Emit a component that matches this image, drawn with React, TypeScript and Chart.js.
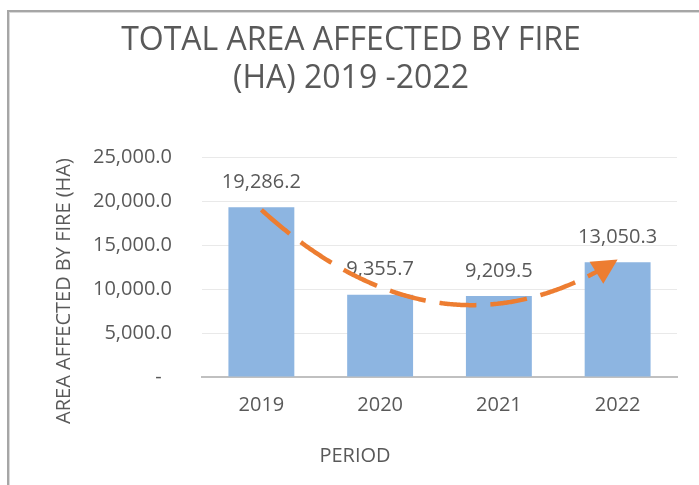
import React, { useEffect, useRef } from "react";
import { Chart, registerables } from "chart.js";

Chart.register(...registerables);

const categories = ["2019", "2020", "2021", "2022"];
const areaValues = [19286.2, 9355.7, 9209.5, 13050.3];
const yTickValues = [0, 5000, 10000, 15000, 20000, 25000];
const titleLines = ["TOTAL AREA AFFECTED BY FIRE", "(HA) 2019 -2022"];
const yAxisTitle = "AREA AFFECTED BY FIRE (HA)";
const xAxisTitle = "PERIOD";

const TEXT = "#595959";
const FONT = "'Open Sans', 'Liberation Sans', sans-serif";

const fmt = (v: number) =>
  v.toLocaleString("en-US", { minimumFractionDigits: 1, maximumFractionDigits: 1 });

function quadFit(vals: number[]): [number, number, number] {
  let s0 = 0, s1 = 0, s2 = 0, s3 = 0, s4 = 0, t0 = 0, t1 = 0, t2 = 0;
  vals.forEach((y, x) => {
    s0 += 1; s1 += x; s2 += x * x; s3 += x ** 3; s4 += x ** 4;
    t0 += y; t1 += x * y; t2 += x * x * y;
  });
  const det = (m: number[][]) =>
    m[0][0] * (m[1][1] * m[2][2] - m[1][2] * m[2][1]) -
    m[0][1] * (m[1][0] * m[2][2] - m[1][2] * m[2][0]) +
    m[0][2] * (m[1][0] * m[2][1] - m[1][1] * m[2][0]);
  const M = [[s0, s1, s2], [s1, s2, s3], [s2, s3, s4]];
  const r = [t0, t1, t2];
  const D = det(M);
  const sol = [0, 1, 2].map((c) => {
    const Mc = M.map((row, i) => row.map((v, j) => (j === c ? r[i] : v)));
    return det(Mc) / D;
  });
  return [sol[0], sol[1], sol[2]];
}

const framePlugin = {
  id: "frame",
  beforeDraw(chart: any) {
    const { ctx, width, height } = chart;
    ctx.save();
    ctx.fillStyle = "#ffffff";
    ctx.fillRect(0, 0, width, height);
    ctx.fillStyle = "#a6a6a6";
    ctx.fillRect(7, 10, width - 7, 2);
    ctx.fillRect(7, 10, 2, height - 10);
    ctx.fillStyle = "#d9d9d9";
    ctx.fillRect(9, 12, width - 9, 1);
    ctx.fillRect(9, 12, 1, height - 12);
    ctx.restore();
  },
};

const textPlugin = {
  id: "texts",
  afterDraw(chart: any) {
    const { ctx } = chart;
    ctx.save();
    ctx.fillStyle = TEXT;
    ctx.textAlign = "center";
    ctx.textBaseline = "middle";
    ctx.font = `32px ${FONT}`;
    ctx.fillText(titleLines[0], 351, 41);
    ctx.fillText(titleLines[1], 351, 79);
    ctx.font = `20px ${FONT}`;
    ctx.fillText(xAxisTitle, 355, 456);
    ctx.translate(64, 291);
    ctx.rotate(-Math.PI / 2);
    ctx.fillText(yAxisTitle, 0, 0);
    ctx.restore();
  },
};

const labelPlugin = {
  id: "barLabels",
  afterDatasetsDraw(chart: any) {
    const { ctx } = chart;
    const meta = chart.getDatasetMeta(0);
    ctx.save();
    ctx.fillStyle = TEXT;
    ctx.textAlign = "center";
    ctx.textBaseline = "middle";
    ctx.font = `20px ${FONT}`;
    meta.data.forEach((el: any, i: number) => {
      ctx.fillText(fmt(areaValues[i]), el.x, el.y - 25);
    });
    ctx.restore();
  },
};

const trendPlugin = {
  id: "trend",
  afterDatasetsDraw(chart: any) {
    const { ctx } = chart;
    const xs = chart.scales.x;
    const ys = chart.scales.y;
    const [a0, a1, a2] = quadFit(areaValues);
    const f = (t: number) => a0 + a1 * t + a2 * t * t;
    const px = (t: number) => xs.getPixelForValue(t);
    const py = (t: number) => ys.getPixelForValue(f(t));
    const tEnd = areaValues.length - 1;
    const ex = px(tEnd), ey = py(tEnd);
    let dx = ex - px(tEnd - 0.01), dy = ey - py(tEnd - 0.01);
    const len = Math.hypot(dx, dy);
    dx /= len; dy /= len;
    const headLen = 25, headHalf = 13;
    ctx.save();
    ctx.strokeStyle = "#ed7d31";
    ctx.fillStyle = "#ed7d31";
    ctx.lineWidth = 4.5;
    ctx.lineCap = "butt";
    ctx.setLineDash([37, 14]);
    ctx.beginPath();
    ctx.moveTo(px(0), py(0));
    for (let t = 0.01; t <= tEnd; t += 0.01) {
      const x = px(t), y = py(t);
      if (Math.hypot(ex - x, ey - y) < headLen - 3) break;
      ctx.lineTo(x, y);
    }
    ctx.stroke();
    ctx.setLineDash([]);
    const bx = ex - dx * headLen, by = ey - dy * headLen;
    ctx.beginPath();
    ctx.moveTo(ex, ey);
    ctx.lineTo(bx - dy * headHalf, by + dx * headHalf);
    ctx.lineTo(bx + dy * headHalf, by - dx * headHalf);
    ctx.closePath();
    ctx.fill();
    ctx.restore();
  },
};

export default function App() {
  const ref = useRef<HTMLCanvasElement | null>(null);
  useEffect(() => {
    if (!ref.current) return;
    const chart = new Chart(ref.current, {
      type: "bar",
      data: {
        labels: categories,
        datasets: [
          {
            data: areaValues,
            backgroundColor: "#8db5e1",
            borderWidth: 0,
            barPercentage: 0.555,
            categoryPercentage: 1,
          },
        ],
      },
      options: {
        animation: false,
        responsive: false,
        layout: { padding: { top: 157, right: 22, bottom: 0, left: 0 } },
        plugins: {
          legend: { display: false },
          title: { display: false },
          tooltip: { enabled: false },
        },
        scales: {
          x: {
            grid: { display: false, drawTicks: false },
            border: { display: true, color: "#c0c0c0", width: 2 },
            ticks: { color: TEXT, font: { family: FONT, size: 20 }, padding: 16 },
            afterFit: (s: any) => { s.height = 108; },
          },
          y: {
            min: 0,
            max: 25000,
            afterBuildTicks: (s: any) => { s.ticks = yTickValues.map((v) => ({ value: v })); },
            grid: { color: "#e9e9e9", lineWidth: 1, drawTicks: false },
            border: { display: false },
            ticks: {
              color: TEXT,
              font: { family: FONT, size: 20 },
              padding: 30,
              callback: (v: any) => (Number(v) === 0 ? "-  " : fmt(Number(v))),
            },
            afterFit: (s: any) => { s.width = 202; },
          },
        },
      },
      plugins: [framePlugin, labelPlugin, trendPlugin, textPlugin],
    });
    return () => chart.destroy();
  }, []);
  return (
    <div style={{ position: "fixed", left: 0, top: 0, width: 699, height: 485 }}>
      <canvas ref={ref} width={699} height={485} style={{ width: 699, height: 485, display: "block" }} />
    </div>
  );
}
